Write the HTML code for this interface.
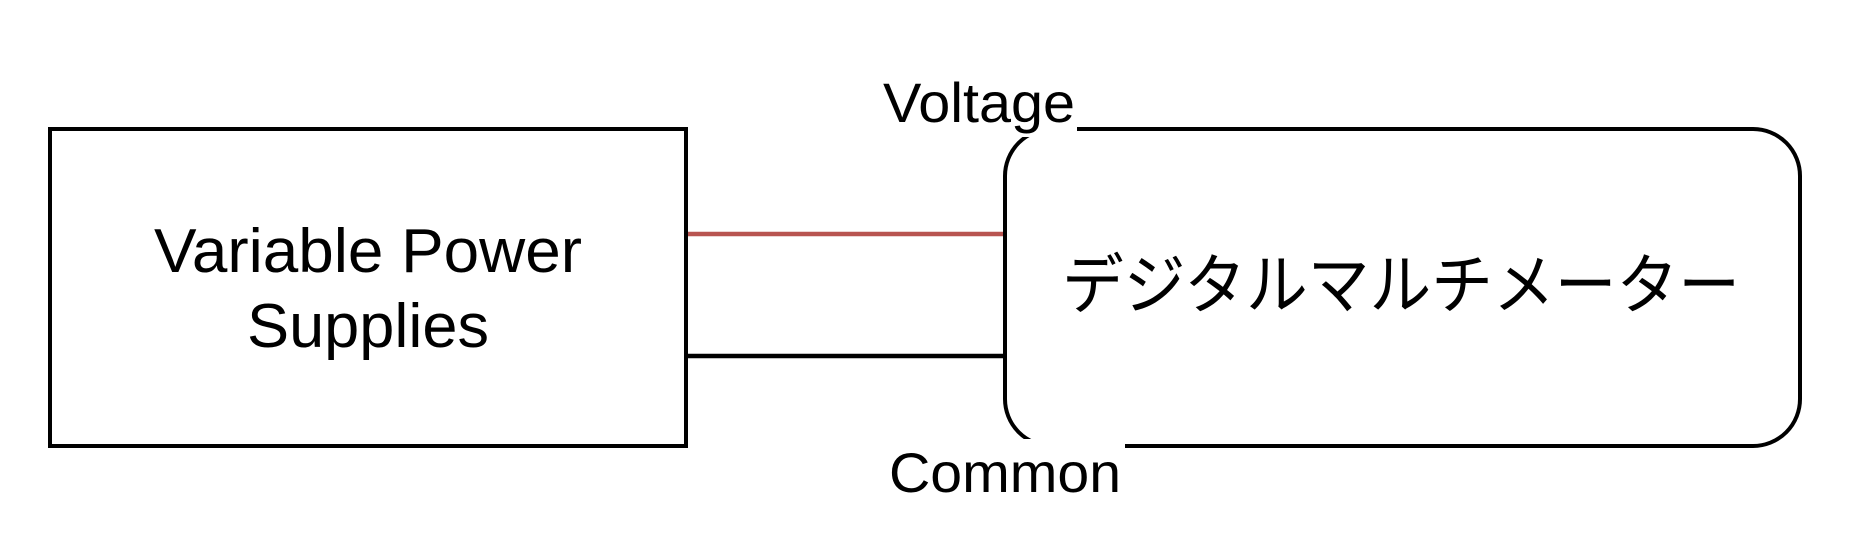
<!DOCTYPE html>
<html><head><meta charset="utf-8"><style>
html,body{margin:0;padding:0;background:#fff;}
svg{display:block;}
text{font-family:"Liberation Sans","Noto Sans CJK JP",sans-serif;fill:#000;}
</style></head><body>
<svg width="1856" height="546" viewBox="0 0 1856 546" xmlns="http://www.w3.org/2000/svg">
<rect width="1856" height="546" fill="#fff"/>
<rect x="50" y="129" width="636" height="317" fill="#fff" stroke="#000" stroke-width="4"/>
<rect x="1005" y="129" width="795" height="317" rx="47" ry="47" fill="#fff" stroke="#000" stroke-width="4"/>
<line x1="688" y1="234" x2="1003" y2="234" stroke="#b85450" stroke-width="4.5"/>
<line x1="688" y1="356" x2="1003" y2="356" stroke="#000" stroke-width="4.5"/>
<rect x="880" y="70" width="197" height="67" fill="#fff"/>
<rect x="885" y="439" width="240" height="70" fill="#fff"/>
<text x="154" y="272" font-size="62" textLength="428" lengthAdjust="spacingAndGlyphs">Variable Power</text>
<text x="247" y="347" font-size="62" textLength="242" lengthAdjust="spacingAndGlyphs">Supplies</text>
<text x="1062" y="308" font-size="66" textLength="678" lengthAdjust="spacingAndGlyphs">デジタルマルチメーター</text>
<text x="883" y="122" font-size="56" textLength="192" lengthAdjust="spacingAndGlyphs">Voltage</text>
<text x="889" y="492" font-size="56" textLength="232" lengthAdjust="spacingAndGlyphs">Common</text>
</svg>
</body></html>
